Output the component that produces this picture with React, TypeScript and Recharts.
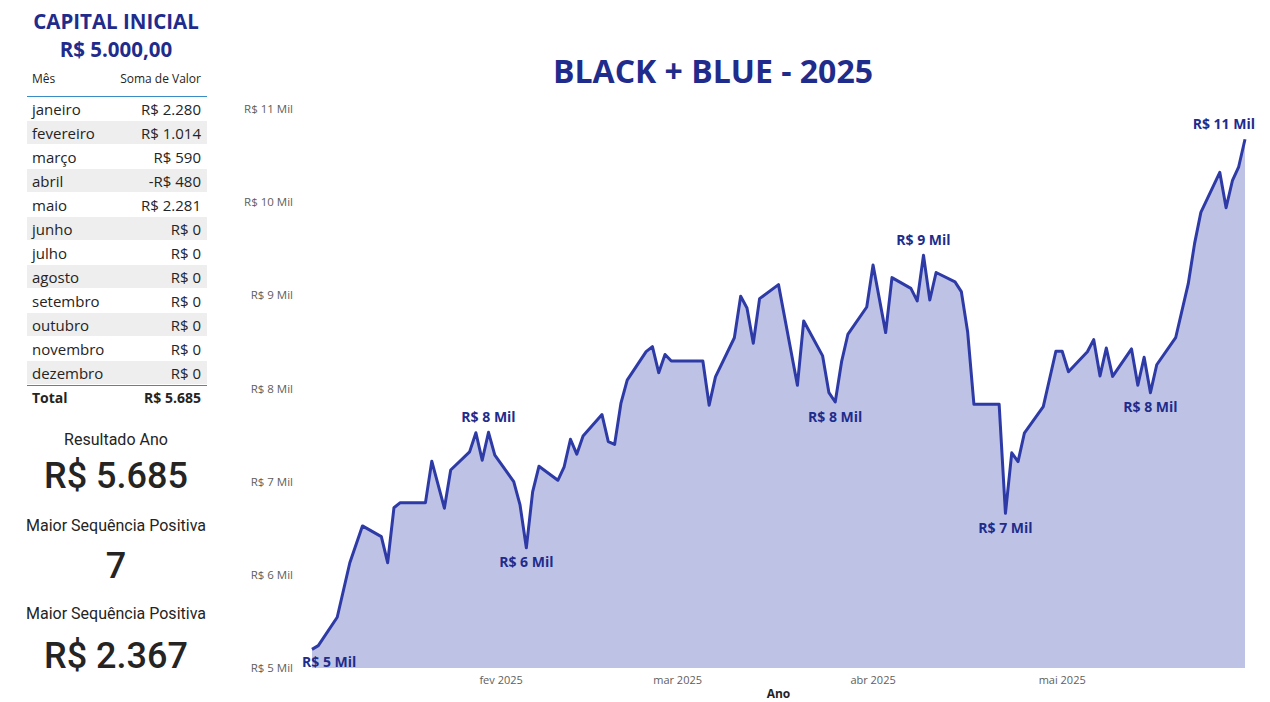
import React from 'react'
import { AreaChart, Area, XAxis, YAxis, LabelList } from 'recharts'

// day of year (0 = 1 jan 2025), only trading days that show as vertices
const days = [
  1, 2, 5, 7, 9, 12, 13, 14, 15, 19,
  20, 22, 23, 26, 27, 28, 29, 30, 33, 34,
  35, 36, 37, 40, 41, 42, 43, 44, 47, 48,
  49, 50, 51, 54, 55, 56, 57, 58, 63, 64,
  65, 68, 69, 70, 71, 72, 75, 78, 79, 82,
  83, 84, 85, 86, 89, 90, 92, 93, 96, 97,
  98, 99, 100, 103, 104, 105, 106, 110, 111, 112,
  113, 114, 117, 119, 120, 121, 124, 125, 126, 127,
  128, 131, 132, 133, 134, 135, 138, 140, 141, 142,
  145, 146, 147, 148, 149,
]

const saldo = [
  5200, 5240, 5545, 6130, 6525, 6410, 6130, 6720, 6775, 6775,
  7220, 6715, 7125, 7320, 7525, 7230, 7530, 7285, 7000, 6750,
  6290, 6890, 7165, 7015, 7160, 7455, 7295, 7490, 7720, 7430,
  7400, 7840, 8090, 8395, 8450, 8170, 8365, 8295, 8295, 7820,
  8125, 8545, 8990, 8865, 8485, 8965, 9115, 8035, 8725, 8350,
  7955, 7855, 8285, 8580, 8875, 9325, 8600, 9190, 9075, 8940,
  9430, 8950, 9245, 9145, 9040, 8610, 7830, 7830, 6660, 7310,
  7215, 7520, 7805, 8400, 8400, 8180, 8395, 8525, 8135, 8435,
  8130, 8425, 8035, 8335, 7955, 8255, 8545, 9125, 9555, 9890,
  10320, 9940, 10230, 10380, 10675,
]

// days that carry a data label
const labelDays = [1, 29, 35, 84, 98, 111, 134, 149]

const monthTicks = [31, 59, 90, 120]
const monthTickLabels = ['fev 2025', 'mar 2025', 'abr 2025', 'mai 2025']
const yTicks = [5000, 6000, 7000, 8000, 9000, 10000, 11000]

const meses = ['janeiro', 'fevereiro', 'março', 'abril', 'maio', 'junho', 'julho', 'agosto', 'setembro', 'outubro', 'novembro', 'dezembro']
const somaMes = [2280, 1014, 590, -480, 2281, 0, 0, 0, 0, 0, 0, 0]

const maiorSequencia = 7
const maiorSequenciaValor = 2367

const data = days.map((d, i) => ({ day: d, valor: saldo[i] }))

const BLUE = '#1f2c8c'
const TXT = '#252423'

const fmt = (v: number) => {
  const s = Math.abs(v).toString().replace(/\B(?=(\d{3})+(?!\d))/g, '.')
  return (v < 0 ? '-' : '') + 'R$ ' + s
}
const fmtMil = (v: number) => 'R$ ' + Math.round(v / 1000) + ' Mil'

const renderLabel = (props: any) => {
  const { x, y, index } = props
  const d = days[index]
  if (!labelDays.includes(d)) return null
  const v = saldo[index]
  const prev = index > 0 ? saldo[index - 1] : Infinity
  const next = index < saldo.length - 1 ? saldo[index + 1] : -Infinity
  const below = v < prev && v < next
  let anchor: 'middle' | 'start' | 'end' = 'middle'
  let tx = x
  if (index === 0) { anchor = 'start'; tx = x - 10 }
  if (index === saldo.length - 1) { anchor = 'end'; tx = x + 10 }
  return (
    <text key={'lbl' + index} x={tx} y={below ? (index === 0 ? y + 12 : y + 14) : y - 16} textAnchor={anchor}
      dominantBaseline="central" fontFamily="Open Sans" fontWeight={700} fontSize={14} fill={BLUE}>
      {fmtMil(v)}
    </text>
  )
}

const abs = (top: number, extra: React.CSSProperties = {}): React.CSSProperties => ({
  position: 'absolute', top, left: 0, width: 232, textAlign: 'center', ...extra,
})

export default function App() {
  const total = somaMes.reduce((a, b) => a + b, 0)
  return (
    <div style={{ position: 'absolute', left: 0, top: 0, width: 1270, height: 702, overflow: 'hidden', background: '#fff' }}>
      {/* left panel */}
      <div style={abs(7, { fontFamily: 'Open Sans', fontWeight: 700, fontSize: 20.5, lineHeight: '28px', color: BLUE })}>
        CAPITAL INICIAL
      </div>
      <div style={abs(35, { fontFamily: 'Open Sans', fontWeight: 700, fontSize: 20.5, lineHeight: '28px', color: BLUE })}>
        R$ 5.000,00
      </div>

      <div style={{ position: 'absolute', left: 27, top: 67, width: 180, fontFamily: 'Open Sans', color: TXT }}>
        <div style={{ display: 'flex', justifyContent: 'space-between', height: 30, lineHeight: '24px', fontSize: 12, padding: '0 6px 0 5px', borderBottom: '1px solid #3a8cc4', boxSizing: 'border-box' }}>
          <span>Mês</span><span>Soma de Valor</span>
        </div>
        {meses.map((m, i) => (
          <div key={m} style={{ display: 'flex', justifyContent: 'space-between', height: 24, lineHeight: '24px', fontSize: 15, padding: '0 6px 0 5px', background: i % 2 === 1 ? '#eeeeee' : '#fff', borderBottom: '1px solid #fff', boxSizing: 'border-box' }}>
            <span>{m}</span><span>{fmt(somaMes[i])}</span>
          </div>
        ))}
        <div style={{ display: 'flex', justifyContent: 'space-between', height: 24, lineHeight: '24px', fontSize: 14, fontWeight: 700, padding: '0 6px 0 5px', borderTop: '1px solid #3a8cc4', boxSizing: 'border-box' }}>
          <span>Total</span><span>{fmt(total)}</span>
        </div>
      </div>

      <div style={abs(428, { fontFamily: 'Roboto', fontSize: 16, lineHeight: '24px', color: TXT })}>Resultado Ano</div>
      <div style={abs(454, { fontFamily: 'Roboto', fontWeight: 500, fontSize: 36, lineHeight: '44px', color: TXT })}>{fmt(total)}</div>
      <div style={abs(514, { fontFamily: 'Roboto', fontSize: 16, lineHeight: '24px', color: TXT })}>Maior Sequência Positiva</div>
      <div style={abs(544, { fontFamily: 'Roboto', fontWeight: 500, fontSize: 36, lineHeight: '44px', color: TXT })}>{maiorSequencia}</div>
      <div style={abs(602, { fontFamily: 'Roboto', fontSize: 16, lineHeight: '24px', color: TXT })}>Maior Sequência Positiva</div>
      <div style={abs(634, { fontFamily: 'Roboto', fontWeight: 500, fontSize: 36, lineHeight: '44px', color: TXT })}>{fmt(maiorSequenciaValor)}</div>

      {/* title */}
      <div style={{ position: 'absolute', left: 413, top: 49, width: 600, textAlign: 'center', fontFamily: 'Open Sans', fontWeight: 700, fontSize: 32, lineHeight: '44px', color: BLUE }}>
        BLACK + BLUE - 2025
      </div>

      {/* chart */}
      <div style={{ position: 'absolute', left: 230, top: 90 }}>
        <AreaChart width={1040} height={612} data={data} margin={{ top: 19, right: 25, bottom: 0, left: 0 }}>
          <XAxis dataKey="day" type="number" domain={[1, 149]} ticks={monthTicks}
            tickFormatter={(v: number) => monthTickLabels[monthTicks.indexOf(v)]}
            axisLine={false} tickLine={false} height={34}
            tick={{ fontFamily: 'Open Sans', fontSize: 11, fill: '#605e5c' }}
            label={{ value: 'Ano', position: 'insideBottom', offset: 4, fontFamily: 'Open Sans', fontWeight: 700, fontSize: 12, fill: '#252423' }} />
          <YAxis type="number" domain={[5000, 11000]} ticks={yTicks} width={82}
            tickFormatter={(v: number) => fmtMil(v)}
            axisLine={false} tickLine={false} tickSize={6} tickMargin={13}
            tick={{ fontFamily: 'Open Sans', fontSize: 11.5, fill: '#605e5c' }} />
          <Area type="linear" dataKey="valor" stroke="#2e3ba6" strokeWidth={3} fill="#bec3e6" fillOpacity={1}
            dot={false} activeDot={false} isAnimationActive={false} strokeLinejoin="round">
            <LabelList dataKey="valor" content={renderLabel} />
          </Area>
        </AreaChart>
      </div>
    </div>
  )
}
